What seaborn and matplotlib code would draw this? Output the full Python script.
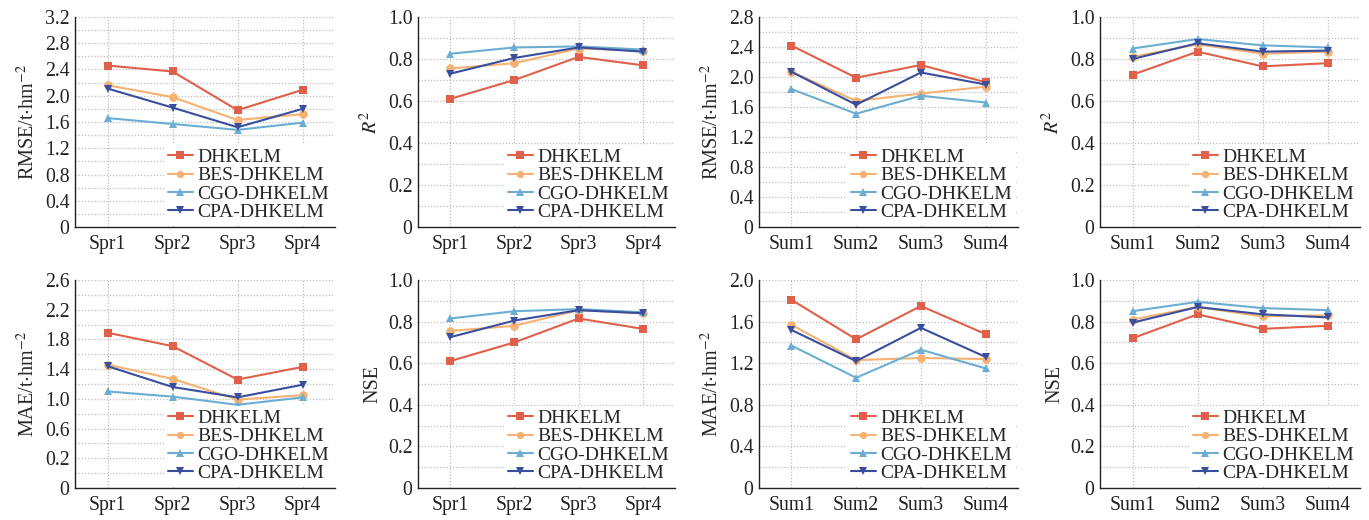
import numpy as np
import pandas as pd
import matplotlib
matplotlib.use("Agg")
import matplotlib.pyplot as plt
import seaborn as sns

sns.set_theme(style="white")
plt.rcParams['font.family'] = ['Liberation Serif', 'DejaVu Serif']
plt.rcParams['mathtext.fontset'] = 'stix'

models = ["DHKELM", "BES-DHKELM", "CGO-DHKELM", "CPA-DHKELM"]
spr = ["Spr1", "Spr2", "Spr3", "Spr4"]
sumc = ["Sum1", "Sum2", "Sum3", "Sum4"]

rmse_spr = {"DHKELM": [2.46, 2.37, 1.78, 2.09],
            "BES-DHKELM": [2.16, 1.98, 1.63, 1.72],
            "CGO-DHKELM": [1.66, 1.57, 1.48, 1.59],
            "CPA-DHKELM": [2.11, 1.82, 1.52, 1.80]}
r2_spr = {"DHKELM": [0.61, 0.70, 0.81, 0.77],
          "BES-DHKELM": [0.755, 0.78, 0.85, 0.84],
          "CGO-DHKELM": [0.825, 0.855, 0.86, 0.845],
          "CPA-DHKELM": [0.73, 0.805, 0.855, 0.835]}
rmse_sum = {"DHKELM": [2.42, 1.99, 2.16, 1.93],
            "BES-DHKELM": [2.07, 1.68, 1.78, 1.87],
            "CGO-DHKELM": [1.84, 1.51, 1.75, 1.66],
            "CPA-DHKELM": [2.07, 1.63, 2.06, 1.90]}
r2_sum = {"DHKELM": [0.725, 0.835, 0.765, 0.78],
          "BES-DHKELM": [0.81, 0.87, 0.825, 0.835],
          "CGO-DHKELM": [0.85, 0.895, 0.865, 0.855],
          "CPA-DHKELM": [0.80, 0.875, 0.835, 0.84]}
mae_spr = {"DHKELM": [1.89, 1.71, 1.26, 1.43],
           "BES-DHKELM": [1.46, 1.27, 0.99, 1.05],
           "CGO-DHKELM": [1.10, 1.03, 0.92, 1.02],
           "CPA-DHKELM": [1.44, 1.16, 1.02, 1.19]}
nse_spr = {"DHKELM": [0.61, 0.70, 0.815, 0.765],
           "BES-DHKELM": [0.755, 0.78, 0.855, 0.84],
           "CGO-DHKELM": [0.815, 0.85, 0.86, 0.845],
           "CPA-DHKELM": [0.725, 0.805, 0.855, 0.84]}
mae_sum = {"DHKELM": [1.81, 1.43, 1.75, 1.48],
           "BES-DHKELM": [1.57, 1.23, 1.25, 1.24],
           "CGO-DHKELM": [1.37, 1.06, 1.33, 1.15],
           "CPA-DHKELM": [1.52, 1.22, 1.54, 1.26]}
nse_sum = {"DHKELM": [0.72, 0.835, 0.765, 0.78],
           "BES-DHKELM": [0.81, 0.87, 0.825, 0.83],
           "CGO-DHKELM": [0.85, 0.895, 0.865, 0.855],
           "CPA-DHKELM": [0.795, 0.87, 0.835, 0.82]}

# y-axis ticks and their labels (as printed in the reference)
rmse_spr_ticks = [0, 0.4, 0.8, 1.2, 1.6, 2.0, 2.4, 2.8, 3.2]
rmse_spr_tlabels = ["0", "0.4", "0.8", "1.2", "1.6", "2.0", "2.4", "2.8", "3.2"]
rmse_sum_ticks = [0, 0.4, 0.8, 1.2, 1.6, 2.0, 2.4, 2.8]
rmse_sum_tlabels = ["0", "0.4", "0.8", "1.2", "1.6", "2.0", "2.4", "2.8"]
r_ticks = [0, 0.2, 0.4, 0.6, 0.8, 1.0]
r_tlabels = ["0", "0.2", "0.4", "0.6", "0.8", "1.0"]
mae_spr_ticks = [-0.2, 0.2, 0.6, 1.0, 1.4, 1.8, 2.2, 2.6]
mae_spr_tlabels = ["0", "0.2", "0.6", "1.0", "1.4", "1.8", "2.2", "2.6"]
mae_sum_ticks = [0, 0.4, 0.8, 1.2, 1.6, 2.0]
mae_sum_tlabels = ["0", "0.4", "0.8", "1.2", "1.6", "2.0"]

colors = {"DHKELM": "#E0604A", "BES-DHKELM": "#F5B272",
          "CGO-DHKELM": "#6BAED2", "CPA-DHKELM": "#3A4E9E"}
markers = {"DHKELM": "s", "BES-DHKELM": "o", "CGO-DHKELM": "^", "CPA-DHKELM": "v"}

rmse_lab = r'RMSE/t$\cdot$hm$^{-2}$'
mae_lab = r'MAE/t$\cdot$hm$^{-2}$'
r2_lab = r'$R^2$'

panels = [
    (rmse_spr, spr, rmse_lab, rmse_spr_ticks, rmse_spr_tlabels, 0.2),
    (r2_spr, spr, r2_lab, r_ticks, r_tlabels, 0.1),
    (rmse_sum, sumc, rmse_lab, rmse_sum_ticks, rmse_sum_tlabels, 0.2),
    (r2_sum, sumc, r2_lab, r_ticks, r_tlabels, 0.1),
    (mae_spr, spr, mae_lab, mae_spr_ticks, mae_spr_tlabels, 0.2),
    (nse_spr, spr, "NSE", r_ticks, r_tlabels, 0.1),
    (mae_sum, sumc, mae_lab, mae_sum_ticks, mae_sum_tlabels, 0.2),
    (nse_sum, sumc, "NSE", r_ticks, r_tlabels, 0.1),
]

W, H = 1369, 520
fig = plt.figure(figsize=(W / 100, H / 100), dpi=100)
lefts = [75, 418, 759, 1100]
widths = [260, 257, 259, 260]
rows = [(17, 227), (280, 488)]

for i, (d, cats, ylab, yt, ytl, gstep) in enumerate(panels):
    r, c = divmod(i, 4)
    top, bot = rows[r]
    ax = fig.add_axes([lefts[c] / W, 1 - bot / H, widths[c] / W, (bot - top) / H])
    recs = []
    for m in models:
        for k, cat in enumerate(cats):
            recs.append({"cat": cat, "x": k, "val": d[m][k], "model": m})
    df = pd.DataFrame(recs)
    sns.lineplot(data=df, x="x", y="val", hue="model", style="model",
                 hue_order=models, style_order=models, palette=colors,
                 markers=markers, dashes=False, markersize=6.2, linewidth=1.5,
                 markeredgewidth=0, ax=ax, legend=True, zorder=3)
    ymin, ymax = yt[0], yt[-1]
    ax.set_xlim(-0.5, 3.5)
    ax.set_ylim(ymin, ymax)
    ax.set_xticks(range(4))
    ax.set_xticklabels(cats)
    ax.set_yticks(yt)
    ax.set_yticklabels(ytl)
    n = int(round((ymax - ymin) / gstep))
    for j in range(1, n + 1):
        ax.axhline(ymin + j * gstep, color="#BDBDBD", lw=0.9, ls=(0, (1, 1.5)), zorder=0)
    for gx in range(4):
        ax.axvline(gx, color="#BDBDBD", lw=0.9, ls=(0, (1, 1.5)), zorder=0)
    ax.set_xlabel("")
    ax.set_ylabel(ylab, fontsize=14.5, labelpad=4)
    for s in ["top", "right"]:
        ax.spines[s].set_visible(False)
    for s in ["left", "bottom"]:
        ax.spines[s].set_color("#222222")
        ax.spines[s].set_linewidth(1.0)
    ax.tick_params(axis="both", direction="in", length=3, width=0.9,
                   colors="#222222", labelsize=14.2, pad=4)
    ax.tick_params(axis="x", pad=6)
    leg = ax.legend(loc="lower right", bbox_to_anchor=(1.0, 0.0), fontsize=14,
                    frameon=True, facecolor="white", edgecolor="none", framealpha=1,
                    handlelength=1.25, handletextpad=0.25, labelspacing=0.04,
                    borderpad=0.2, borderaxespad=0.1, markerscale=0.85)
    leg.set_zorder(5)
    leg.get_frame().set_boxstyle("square", pad=0)

fig.savefig("out.png", dpi=100)
